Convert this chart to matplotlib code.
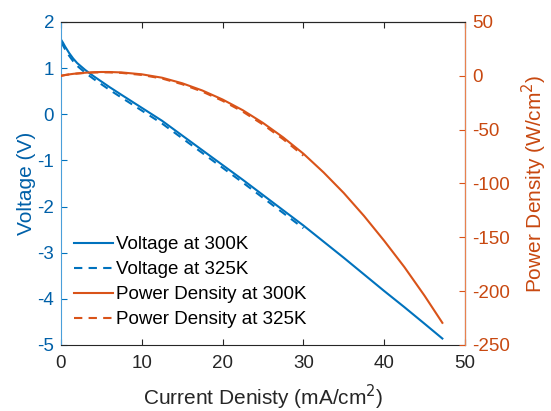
import numpy as np
import matplotlib.pyplot as plt

plt.rcParams['font.family'] = ['Liberation Sans', 'DejaVu Sans']
plt.rcParams['axes.unicode_minus'] = False

# current density (mA/cm^2)
cur300 = [0, 0.25, 0.5, 1, 1.5, 2, 3, 4, 5, 6, 7.5, 10, 12.5, 15, 17.5, 20,
          22.5, 25, 27.5, 30, 32.5, 35, 37.5, 40, 42.5, 45, 47.2]
volt300 = [1.62, 1.55, 1.47, 1.33, 1.21, 1.11, 0.96, 0.83, 0.71, 0.59, 0.42, 0.14,
           -0.14, -0.46, -0.78, -1.10, -1.42, -1.75, -2.08, -2.41, -2.76, -3.11,
           -3.47, -3.83, -4.18, -4.54, -4.86]
pow300 = [0, 0.39, 0.74, 1.33, 1.82, 2.22, 2.88, 3.32, 3.55, 3.54, 3.15, 1.4,
          -1.75, -6.9, -13.65, -22, -31.95, -43.75, -57.2, -72.3, -89.7, -108.85,
          -130.1, -153.2, -177.65, -204.3, -229.4]

cur325 = [0, 0.25, 0.5, 1, 1.5, 2, 3, 4, 5, 6, 7.5, 10, 12.5, 15, 17.5, 20,
          22.5, 25, 27.5, 30]
volt325 = [1.56, 1.49, 1.41, 1.27, 1.15, 1.05, 0.90, 0.77, 0.65, 0.53, 0.36, 0.08,
           -0.20, -0.52, -0.84, -1.16, -1.48, -1.81, -2.14, -2.47]
pow325 = [0, 0.37, 0.71, 1.27, 1.73, 2.1, 2.7, 3.08, 3.25, 3.18, 2.7, 0.8,
          -2.5, -7.8, -14.7, -23.2, -33.3, -45.25, -58.85, -74.1]

blue = '#0072BD'
orange = '#D95319'
dark = '#262626'

fig = plt.figure(figsize=(5.51, 4.11), dpi=100)
ax = fig.add_axes([0.1107, 0.1606, 0.8439 - 0.1107, 0.9465 - 0.1606])
ax2 = ax.twinx()

l1, = ax.plot(cur300, volt300, color=blue, lw=1.5, label='Voltage at 300K')
l2, = ax.plot(cur325, volt325, color=blue, lw=1.5, ls=(0, (4, 3)), label='Voltage at 325K')
l3, = ax2.plot(cur300, pow300, color=orange, lw=1.5, label='Power Density at 300K')
l4, = ax2.plot(cur325, pow325, color=orange, lw=1.5, ls=(0, (4, 3)), label='Power Density at 325K')

ax.set_xlim(0, 50)
ax.set_ylim(-5, 2)
ax2.set_ylim(-250, 50)
ax.set_xticks([0, 10, 20, 30, 40, 50])
ax.set_yticks(range(-5, 3))
ax2.set_yticks(range(-250, 51, 50))

fs = 13.5
ax.tick_params(axis='x', direction='in', top=True, colors=dark, labelsize=fs, length=4, pad=7)
ax.tick_params(axis='y', direction='in', colors=blue, labelsize=fs, length=4, pad=5)
ax2.tick_params(axis='y', direction='in', colors=orange, labelsize=fs, length=4, pad=5)
for lab in ax.get_yticklabels():
    lab.set_color('#0060A8')
for lab in ax2.get_yticklabels():
    lab.set_color('#C84810')

ax.spines['left'].set_color('#4A9FDA')
ax.spines['top'].set_color(dark)
ax.spines['bottom'].set_color(dark)
ax2.spines['right'].set_color('#E8814F')
ax2.spines['left'].set_visible(False)
ax2.spines['top'].set_color(dark)
ax2.spines['bottom'].set_visible(False)

ax.set_xlabel('Current Denisty (mA/cm$^2$)', fontsize=15, color=dark, labelpad=8)
ax.set_ylabel('Voltage (V)', fontsize=15, color='#0060A8', labelpad=1)
ax2.set_ylabel('Power Density (W/cm$^2$)', fontsize=15, color='#C84810', labelpad=7)

ax.legend(handles=[l1, l2, l3, l4], loc='lower left', frameon=False, fontsize=13.5,
          handlelength=2.1, handletextpad=0.15, labelspacing=0.42,
          bbox_to_anchor=(-0.01, 0.0))

fig.savefig('out.png', dpi=100)
